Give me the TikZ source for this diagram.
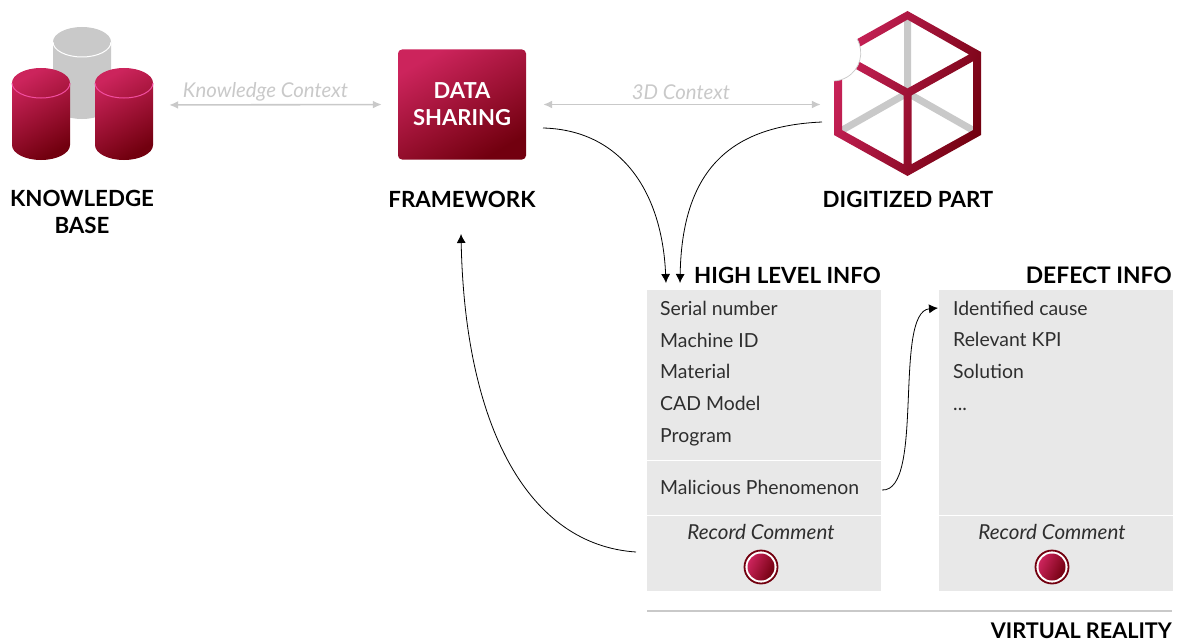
\documentclass[tikz,border=0pt]{standalone}
\usepackage{fontspec}
\setmainfont{Lato}
\usetikzlibrary{arrows.meta,positioning}
\definecolor{redhi}{HTML}{CC245C}
\definecolor{redlo}{HTML}{72000F}
\definecolor{panelgray}{HTML}{E8E8E8}
\definecolor{linkgray}{HTML}{C9C9C9}
\definecolor{bodytext}{HTML}{2E2E2E}
\tikzset{
    redshade/.style={top color=redhi, bottom color=redlo, shading angle=30},
    heading/.style={font=\fontsize{22.3}{26}\selectfont\bfseries, text=black, inner sep=0pt, align=center},
    rowtext/.style={font=\fontsize{19.4}{22}\selectfont, text=bodytext, inner sep=0pt, anchor=west, text height=16pt, text depth=2pt},
    recordtext/.style={font=\fontsize{20.6}{24}\selectfont\itshape, text=bodytext, inner sep=0pt},
    contexttext/.style={font=\fontsize{20.4}{24}\selectfont\itshape, text=linkgray, inner sep=0pt},
    panelbox/.style={fill=panelgray, minimum width=234pt, minimum height=301pt, inner sep=0pt},
    recordring/.style={circle, draw=redlo, line width=1.8pt, fill=white, minimum size=33pt, inner sep=0pt},
    recordcore/.style={circle, top color=redhi, bottom color=redlo, shading angle=65, minimum size=27pt, inner sep=0pt},
    graylink/.style={draw=linkgray, line width=1.6pt, {Latex[length=9pt,width=8pt]}-{Latex[length=9pt,width=8pt]}},
    blacklink/.style={draw=black, line width=0.8pt, -{Latex[length=9pt,width=9pt]}},
    iconbox/.style={inner sep=0pt}
}
% one database drum: x, y of the lid centre, body shade, rim colour
\newcommand{\dbdrum}[4]{
    \path[#3] (#1-29,#2) -- (#1-29,#2-62) arc[start angle=180, end angle=360, x radius=29, y radius=15]
        -- (#1+29,#2) arc[start angle=0, end angle=180, x radius=29, y radius=15] -- cycle;
    \draw[#4, line width=1pt] (#1-29,#2) arc[start angle=180, end angle=360, x radius=29, y radius=15];
}
\begin{document}
\begin{tikzpicture}[x=1pt,y=1pt]
    \useasboundingbox (0,0) rectangle (1178,-642);

    % knowledge base
    \dbdrum{82}{-42}{fill=linkgray}{white}
    \dbdrum{41}{-83}{redshade, shade}{magenta!60!pink}
    \dbdrum{124}{-83}{redshade, shade}{magenta!60!pink}
    \node[iconbox, minimum width=141pt, minimum height=110pt] (kbicon) at (82.5,-105) {};
    \node[heading] (kblabel) at (82,-212) {KNOWLEDGE\\[1pt]BASE};

    % framework
    \node[redshade, rounded corners=4pt, minimum width=128pt, minimum height=110pt, inner sep=0pt,
        font=\fontsize{22}{27}\selectfont\bfseries, text=white, align=center] (shareicon) at (462,-104.5) {DATA\\SHARING};
    \node[heading] (framelabel) at (462,-199) {FRAMEWORK};

    % digitized part
    \node[iconbox, minimum width=147pt, minimum height=165pt] (cubeicon) at (907.5,-93.5) {};
    \draw[linkgray, line width=7pt] (907.5,-15) -- (907.5,-93) (838,-132.5) -- (907.5,-93) -- (977,-132.5);
    \begin{scope}[even odd rule]
        \clip
            (907.5,-11) -- (981,-52) -- (981,-135) -- (907.5,-176) -- (834,-135) -- (834,-52) -- cycle
            (907.5,-19.6) -- (969,-54.5) -- (907.5,-88.4) -- (846,-54.5) -- cycle
            (911.5,-95.4) -- (973,-61.3) -- (973,-130.1) -- (911.5,-164.2) -- cycle
            (903.5,-95.4) -- (842,-61.3) -- (842,-130.1) -- (903.5,-164.2) -- cycle;
        \shade[top color=redhi, bottom color=redlo, shading angle=70] (830,-8) rectangle (985,-180);
    \end{scope}
    \fill[white] (833,-53) circle[radius=28];
    \draw[linkgray, line width=0.7pt] (857,-39) arc[start angle=30, end angle=-88, radius=28];
    \node[heading] (cubelabel) at (908,-199) {DIGITIZED PART};

    % panels
    \node[panelbox] (infopanel) at (764,-440) {};
    \node[panelbox] (defectpanel) at (1055.5,-440) {};
    \draw[white, line width=1pt] (infopanel.west |- 0,-460.5) -- (infopanel.east |- 0,-460.5);
    \draw[white, line width=1pt] (infopanel.west |- 0,-515.5) -- (infopanel.east |- 0,-515.5);
    \draw[white, line width=1pt] (defectpanel.west |- 0,-515.5) -- (defectpanel.east |- 0,-515.5);
    \node[heading, anchor=east] (infohead) at (881,-275) {HIGH LEVEL INFO};
    \node[heading, anchor=east, font=\fontsize{22.8}{26}\selectfont\bfseries] (defecthead) at (1172,-275) {DEFECT INFO};

    \node[rowtext] (serial) at (660,-308) {Serial number};
    \node[rowtext] (machine) at (660,-340) {Machine ID};
    \node[rowtext] (material) at (660,-371.5) {Material};
    \node[rowtext] (cadmodel) at (660,-403) {CAD Model};
    \node[rowtext] (program) at (660,-435) {Program};
    \node[rowtext] (malicious) at (660,-487) {Malicious Phenomenon};
    \node[recordtext] (inforec) at (761,-532) {Record Comment};
    \node[recordring] (inforing) at (761,-567) {};
    \node[recordcore] (infocore) at (761,-567) {};

    \node[rowtext] (cause) at (953,-308) {Identified cause};
    \node[rowtext] (kpi) at (953,-339) {Relevant KPI};
    \node[rowtext] (solution) at (953,-371.5) {Solution};
    \node[rowtext] (dots) at (953,-403) {...};
    \node[recordtext] (defectrec) at (1052,-532) {Record Comment};
    \node[recordring] (defectring) at (1052,-567) {};
    \node[recordcore] (defectcore) at (1052,-567) {};

    \coordinate (baseleft) at (647,-611);
    \coordinate (baseright) at (1172,-611);
    \draw[linkgray, line width=1.5pt] (baseleft) -- (baseright);
    \node[heading, anchor=east, font=\fontsize{21.6}{26}\selectfont\bfseries] (vrlabel) at (1172,-631) {VIRTUAL REALITY};

    % gray links
    \draw[graylink, shorten <=16pt, shorten >=16pt] (kbicon.east) -- (shareicon.west);
    \node[contexttext] (kbcontext) at (265.5,-92) {Knowledge Context};
    \draw[graylink, shorten <=17pt, shorten >=13pt] (shareicon.east) -- (shareicon.east -| cubeicon.west);
    \node[contexttext] (cubecontext) at (681,-92) {3D Context};

    % black links
    \coordinate (shareout) at (543,-128);
    \coordinate (cubeout) at (822,-122);
    \coordinate (infoin) at (666,-283);
    \coordinate (infoinb) at (680,-283);
    \coordinate (recout) at (636,-552);
    \coordinate (framein) at (461,-234);
    \coordinate (malout) at (882,-490);
    \coordinate (causein) at (938,-308);
    \draw[blacklink] (shareout) .. controls (620,-130) and (662,-190) .. (infoin);
    \draw[blacklink] (cubeout) .. controls (730,-126) and (682,-170) .. (infoinb);
    \draw[blacklink] (recout) .. controls (530,-545) and (465,-430) .. (framein);
    \draw[blacklink] (malout) .. controls (925,-492) and (893,-312) .. (causein);
\end{tikzpicture}
\end{document}
